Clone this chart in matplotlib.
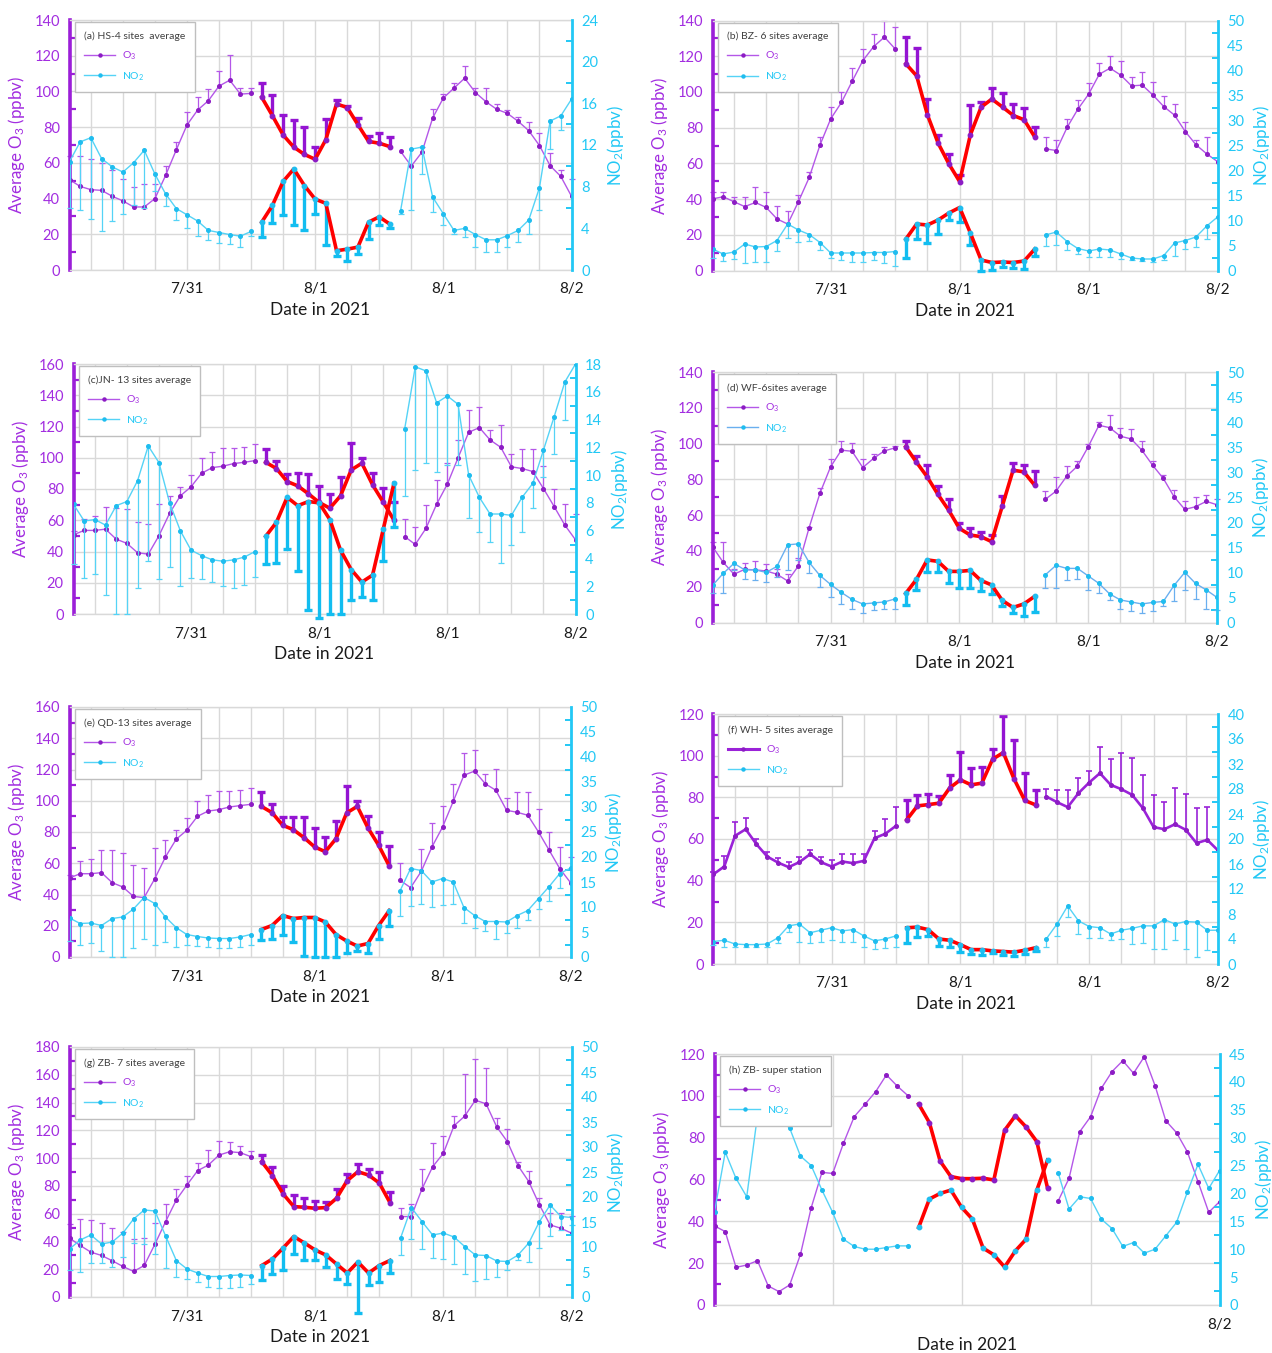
import numpy as np
import matplotlib
matplotlib.use('Agg')
import matplotlib.pyplot as plt
from matplotlib.ticker import MultipleLocator, FixedLocator
from matplotlib.lines import Line2D

plt.rcParams['font.family'] = ['Lato', 'DejaVu Sans']
plt.rcParams['mathtext.fontset'] = 'custom'
plt.rcParams['mathtext.rm'] = 'Lato'
plt.rcParams['mathtext.default'] = 'regular'

# ---------------- data ----------------
HOURS = np.arange(48)
X_TICK_POS = [11, 23, 35, 47]
X_TICK_LABELS = ['7/31', '8/1', '8/1', '8/2']
H_TICK_LABELS = ['', '', '', '8/2']
SEG_SITES = (18, 31)      # highlighted (red) hours, sites-average panels
SEG_SUPER = (19, 32)      # highlighted hours, super station

TITLES = ["(a) HS-4 sites  average", "(b) BZ- 6 sites average", "(c)JN- 13 sites average",
          "(d) WF-6sites average", "(e) QD-13 sites average", "(f) WH- 5 sites average",
          "(g) ZB- 7 sites average", "(h) ZB- super station"]

O3_A = [50.6,46.8,45.0,44.6,41.3,38.7,35.3,35.3,40.0,53.0,67.3,81.2,89.6,94.8,103.0,106.3,98.5,98.9,
        96.7,86.4,75.6,68.8,64.7,62.0,73.0,93.0,91.0,81.4,72.0,71.0,69.1,
        66.4,58.2,66.0,85.1,96.3,101.9,107.4,99.4,94.2,90.0,87.7,83.3,78.0,69.7,58.4,52.4,41.3]
O3_A_HI = [63.8,64.0,62.0,60.0,55.8,51.0,46.5,48.3,48.3,58.0,71.6,88.3,96.7,101.3,111.2,120.3,101.9,101.9,
           104.5,97.8,87.0,84.2,79.9,68.8,84.6,95.4,91.6,85.1,75.3,76.6,74.3,
           66.5,58.2,68.8,90.0,98.5,104.6,114.0,102.2,101.9,93.0,89.6,85.5,82.7,76.8,65.6,55.8,51.1]
NO2_A = [10.4,12.3,12.7,10.7,9.9,9.4,10.3,11.5,9.2,7.3,5.9,5.3,4.7,3.8,3.6,3.4,3.25,3.7,
         4.6,6.2,8.5,9.7,8.1,6.8,6.4,1.85,2.0,2.2,4.6,5.1,4.4,
         5.7,11.6,11.8,7.0,5.4,3.8,4.0,3.4,2.9,2.9,3.3,3.8,4.8,7.9,14.3,14.8,16.4]
NO2_A_LO = [6.0,5.8,4.9,3.7,4.7,5.4,6.2,6.0,7.6,6.1,4.8,4.0,3.3,2.9,2.6,2.5,2.2,3.3,
            3.2,4.5,5.3,4.3,3.8,5.4,2.4,1.3,0.9,1.5,3.0,4.3,4.0,
            5.4,5.8,9.2,5.6,4.3,3.5,3.2,2.2,1.75,1.75,2.2,2.7,3.5,5.8,11.6,13.4,16.4]

O3_B = [40.1,41.3,38.5,35.8,38.1,35.3,28.9,26.0,38.6,52.1,70.2,84.9,94.1,106.0,117.6,125.4,130.7,124.1,
        115.7,109.0,87.2,71.3,59.7,49.8,76.0,91.5,96.0,91.5,86.8,84.4,74.7,
        68.1,67.2,80.1,90.3,98.7,109.9,113.3,109.4,103.4,103.8,98.2,91.8,87.0,77.8,70.4,65.3,61.0]
O3_B_HI = [43.9,44.0,41.4,40.9,47.0,43.7,36.4,33.6,42.4,55.0,74.5,91.8,100.2,113.3,124.3,132.2,140.0,136.3,
           130.7,124.7,96.1,76.0,65.3,53.6,92.8,94.6,102.1,99.3,93.3,90.9,80.6,
           75.0,73.1,84.7,95.6,104.9,116.1,120.2,117.6,108.3,111.3,105.3,98.0,93.1,82.9,73.2,74.5,61.0]
NO2_B = [4.3,3.3,3.7,5.3,4.7,4.8,6.0,9.3,8.1,7.2,5.6,3.5,3.5,3.5,3.5,3.6,3.6,3.8,
         6.3,9.3,9.1,10.1,11.5,12.6,7.5,2.1,1.6,1.7,1.6,1.9,4.3,
         7.1,7.7,5.8,4.4,3.9,4.3,4.1,3.3,2.5,2.3,2.3,3.0,5.5,6.0,6.7,8.9,10.7]
NO2_B_LO = [2.5,1.9,2.4,1.5,1.7,1.8,4.0,6.5,5.7,6.0,4.1,2.6,2.1,1.8,1.8,2.1,1.5,1.0,
            2.5,6.3,5.5,7.3,10.1,9.8,5.1,0.0,0.1,0.8,0.5,0.3,2.9,
            4.9,5.1,4.1,3.3,2.8,2.8,2.8,2.3,2.1,1.9,1.8,2.1,2.9,4.3,4.8,6.3,10.7]

O3_C = [50.7,53.5,53.5,54.3,47.9,45.2,39.2,38.3,50.1,64.5,75.6,81.4,90.1,93.7,94.6,96.3,97.1,98.2,
        97.1,93.1,84.8,82.0,76.9,71.4,67.7,75.6,92.2,96.5,82.7,71.6,60.1,
        49.6,44.5,54.8,70.3,83.1,99.9,116.3,119.3,111.4,106.7,94.2,93.1,91.2,80.3,68.8,56.9,47.5]
O3_C_HI = [53.0,60.7,62.8,68.4,67.7,67.3,59.2,57.5,70.3,75.6,81.6,89.0,99.7,104.0,106.1,106.5,107.2,108.7,
           105.7,98.2,89.5,90.1,89.7,82.2,76.9,87.6,109.3,99.9,90.1,80.5,71.6,
           60.7,55.4,69.9,85.9,96.5,111.4,130.6,132.3,117.6,120.8,102.3,105.9,105.9,95.0,80.1,70.3,64.1]
NO2_C = [7.9,6.7,6.8,6.4,7.8,8.1,9.6,12.1,10.9,8.0,6.0,4.6,4.2,3.9,3.8,3.9,4.1,4.5,
         5.6,6.6,8.4,7.8,8.1,8.0,6.8,4.6,3.2,2.3,2.8,6.1,9.4,
         13.3,17.8,17.5,15.2,15.7,15.1,10.0,8.4,7.2,7.2,7.1,8.4,9.4,11.8,14.2,16.7,18.0]
NO2_C_LO = [3.6,2.6,2.9,1.4,0.0,0.0,1.9,3.8,2.5,3.4,2.0,2.6,2.5,2.3,2.0,1.9,2.1,2.7,
            3.6,3.7,4.7,3.1,0.3,-0.3,0.0,0.0,1.0,1.2,1.0,3.8,6.3,
            8.5,10.4,10.9,10.2,10.7,10.7,6.9,5.9,5.2,3.7,5.0,5.9,7.6,9.9,11.5,14.0,18.0]

O3_D = [42.4,33.6,27.0,29.7,29.4,28.8,27.0,23.2,31.6,53.0,72.1,87.0,96.3,95.7,86.6,91.7,95.9,97.6,
        98.2,89.6,81.4,71.6,62.8,52.6,48.9,48.0,45.2,65.1,85.1,84.2,76.8,
        68.8,73.4,81.8,87.4,98.2,110.2,108.9,104.1,102.6,96.3,87.9,80.5,70.3,63.2,64.7,67.7,65.8]
O3_D_HI = [44.8,44.8,29.7,33.5,34.6,32.5,29.7,27.0,35.9,53.5,75.1,91.3,101.5,100.4,91.1,94.1,98.2,98.5,
           101.3,92.9,88.1,76.4,69.2,55.8,52.6,50.4,48.9,70.6,89.2,88.1,84.6,
           73.6,81.4,87.4,90.0,100.0,112.3,115.8,108.7,108.2,101.3,90.2,82.7,74.0,67.9,70.3,71.4,68.8]
NO2_D = [7.4,9.8,11.8,10.5,10.5,10.0,11.2,15.5,15.7,12.0,9.4,7.6,6.0,4.6,3.7,3.9,4.1,4.7,
         5.8,8.6,12.5,12.2,10.2,10.2,10.4,8.4,7.5,4.4,3.0,3.7,5.2,
         9.5,11.4,10.8,10.8,9.3,7.8,5.7,4.5,4.1,3.7,4.0,4.2,7.4,10.0,7.8,6.5,5.0]
NO2_D_LO = [5.8,5.8,10.5,8.6,8.4,8.0,9.0,10.5,12.4,9.8,7.0,5.0,3.7,2.7,1.9,2.5,2.7,2.7,
            3.5,6.5,10.0,10.0,7.8,6.8,6.8,6.2,5.6,3.3,1.9,1.3,2.0,
            6.8,6.8,8.5,8.6,6.5,5.8,4.5,2.7,2.2,1.9,2.2,3.2,4.3,6.4,4.7,2.7,2.5]

O3_E = [50.6,53.3,53.3,54.0,47.6,44.8,38.8,38.0,50.1,64.0,75.3,81.1,90.0,93.4,94.3,96.0,96.9,97.7,
        96.4,92.4,84.3,81.5,76.4,70.4,67.4,75.7,92.2,96.4,82.6,71.5,58.2,
        49.1,44.4,54.8,70.4,83.2,99.6,116.3,119.0,110.9,106.7,93.9,92.6,90.7,80.0,68.3,56.5,47.6]
O3_E_HI = [52.3,61.2,62.5,68.3,68.3,66.8,59.1,57.0,70.0,75.1,81.5,89.0,99.6,103.7,106.0,106.5,107.1,108.4,
           105.4,98.1,89.4,89.6,89.4,82.3,76.6,87.0,109.2,99.6,90.0,80.2,71.3,
           60.4,56.1,69.3,85.8,96.4,110.9,130.6,132.3,117.3,120.5,102.0,105.6,105.6,94.9,80.0,70.4,64.0]
NO2_E = [7.8,6.7,6.8,6.3,7.7,8.0,9.6,11.9,10.7,8.0,5.9,4.5,4.1,3.8,3.7,3.7,4.0,4.5,
         5.5,6.3,8.3,7.7,7.9,7.9,7.0,4.5,3.2,2.2,2.7,6.3,9.3,
         13.2,17.7,17.3,15.0,15.7,15.0,9.9,8.3,7.1,7.1,7.0,8.3,9.3,11.7,14.1,16.7,17.8]
NO2_E_LO = [3.3,2.5,2.8,1.3,0.0,0.0,1.8,3.7,2.5,3.1,2.0,2.5,2.3,2.1,1.9,1.9,2.1,2.5,
            3.5,3.7,4.5,3.0,0.2,0.0,0.0,0.0,0.9,1.2,0.9,3.7,6.2,
            8.3,10.3,10.7,10.0,10.5,10.7,6.9,5.9,5.2,3.7,4.9,5.8,7.5,9.7,11.3,13.8,17.8]

O3_F = [43.1,46.8,61.5,64.7,57.5,51.6,48.7,46.5,48.9,52.7,48.9,46.8,49.2,48.4,49.5,60.4,62.5,66.3,
        69.2,75.9,76.5,77.2,84.5,88.4,86.0,86.8,98.3,101.5,88.8,78.5,76.4,
        80.4,77.7,75.3,82.0,87.1,91.6,86.0,83.9,81.2,74.8,65.7,64.7,67.1,64.4,58.0,59.6,54.5]
O3_F_HI = [44.4,51.9,68.4,70.3,60.1,54.0,50.8,48.9,51.3,54.8,51.3,50.0,52.7,52.7,52.9,63.9,69.5,75.6,
           78.8,80.9,81.5,80.7,90.8,101.6,94.0,94.8,103.1,119.0,107.5,91.6,83.3,
           83.9,83.6,83.6,89.5,92.8,104.3,98.3,101.2,99.1,90.8,81.2,77.7,84.7,81.7,74.8,75.6,54.5]
NO2_F = [3.6,3.8,3.2,3.1,3.1,3.2,4.2,6.1,6.4,5.0,5.4,5.8,5.3,5.5,4.5,3.7,4.0,4.5,
         5.8,5.9,5.5,4.0,3.8,3.1,2.3,2.3,2.1,2.0,1.9,2.2,2.6,
         4.0,6.4,9.3,6.9,6.0,5.8,4.8,5.4,5.7,6.1,6.1,7.1,6.4,6.8,6.7,5.4,5.4]
NO2_F_LO = [3.1,2.8,2.8,2.7,2.8,2.8,3.4,5.2,3.5,3.4,3.5,3.8,3.6,3.6,2.8,2.4,2.6,2.7,
            3.4,4.3,4.5,2.9,2.7,2.0,1.6,1.5,1.8,1.5,1.3,1.6,2.1,
            2.8,4.5,7.5,4.8,4.2,4.2,3.8,4.0,3.2,3.4,2.4,2.4,3.8,2.4,1.1,2.3,5.4]

O3_G = [42.4,37.1,32.3,29.9,26.1,22.0,18.4,22.7,38.1,54.3,69.9,80.7,91.0,95.0,102.2,104.6,103.9,101.0,
        97.4,87.4,74.2,65.1,64.6,63.9,64.4,71.1,83.8,90.2,87.8,82.1,68.0,
        57.9,57.9,77.8,93.8,103.4,123.3,130.2,141.7,139.1,122.5,111.8,94.5,83.1,66.3,51.9,49.5,46.0]
O3_G_HI = [52.7,56.0,55.5,53.6,49.5,46.7,41.6,42.4,53.1,67.0,77.8,87.1,96.2,105.6,112.5,111.5,108.9,105.3,
           102.2,93.8,79.9,73.5,71.1,69.2,68.7,77.8,88.3,95.5,92.1,90.2,75.9,
           63.9,66.8,91.9,110.6,115.8,130.2,160.8,171.6,164.9,129.0,121.3,97.4,91.0,71.6,60.3,60.3,58.4]
NO2_G = [9.6,11.4,12.4,10.6,11.0,12.8,15.6,17.4,17.2,12.2,7.3,5.6,4.8,4.1,4.1,4.3,4.4,4.3,
         6.3,7.6,9.8,12.1,10.8,9.4,8.4,6.6,4.8,7.0,4.8,6.3,7.3,
         11.8,17.9,15.1,12.4,12.8,12.0,10.1,8.4,8.3,7.2,7.1,8.4,10.8,15.1,18.4,16.1,15.9]
NO2_G_LO = [5.5,5.1,6.8,6.8,6.1,8.0,10.8,10.6,8.6,5.8,4.1,3.6,3.1,2.1,1.8,1.9,2.1,2.6,
            3.5,4.6,5.5,8.6,7.4,7.4,6.1,3.7,2.6,-3.2,2.5,3.0,4.8,
            8.4,11.6,9.6,7.8,7.6,6.6,4.7,3.3,3.7,4.0,5.5,7.4,7.1,9.8,12.2,13.4,14.4]

O3_H = [37.8,35.1,18.0,19.1,21.2,9.1,6.4,9.6,24.2,46.5,63.4,62.9,77.3,90.0,95.9,102.0,110.0,104.7,100.1,
        96.1,87.2,68.8,61.4,60.4,60.4,60.6,59.8,83.5,90.5,85.1,78.1,55.8,
        49.9,60.6,82.9,90.0,103.6,111.6,116.8,110.8,118.7,104.9,88.1,82.4,73.3,59.0,44.3,49.4]
NO2_H = [16.7,27.4,22.7,19.4,34.0,39.0,33.6,31.7,26.7,25.0,20.6,16.6,11.8,10.5,10.0,10.0,10.3,10.6,10.6,
         13.9,19.0,20.0,20.6,17.5,15.4,10.2,9.0,6.8,9.7,11.8,20.6,26.0,
         23.6,17.2,19.4,19.1,15.4,13.7,10.5,11.2,9.3,10.0,12.4,14.8,20.2,25.2,20.9,24.1]

O3_MAX = [140, 140, 160, 140, 160, 120, 180, 120]
NO2_MAX = [24, 50, 18, 50, 50, 40, 50, 45]
NO2_STEP = [4, 5, 2, 5, 5, 4, 5, 5]

# ---------------- style ----------------
W, H = 1272, 1353
RECTS = [(69.5, 20, 571.5, 270), (712.5, 20.5, 1217.5, 270.5),
         (73.5, 364, 575.5, 614), (712.5, 372, 1217, 622.5),
         (69.5, 707, 570.5, 957), (713.5, 714, 1218, 964),
         (69.5, 1047, 571.5, 1297), (714.5, 1054, 1219.5, 1305)]

PUR_TXT = '#A22DE0'
PUR_SPINE = '#9B1FD8'
PUR_LINE = '#B457E8'
PUR_MARK = '#8C1CC4'
PUR_BAR = '#9414D2'
CY_TXT = '#22C8F5'
CY_LINE = '#55D3F6'
CY_MARK = '#1FBDEF'
CY_BAR = '#12BDF0'
RED = '#FF0000'
GRID = '#D9D9D9'

fig = plt.figure(figsize=(W / 100, H / 100), dpi=100)
fig.patch.set_facecolor('white')


def up_bars(ax, x, y, hi, color, lw, capw, z):
    x = np.asarray(x); y = np.asarray(y); hi = np.asarray(hi)
    m = (hi - y) > 0.3
    ax.vlines(x[m], y[m], hi[m], colors=color, lw=lw, zorder=z, clip_on=False)
    ax.plot(x[m], hi[m], ls='none', marker='_', ms=capw, mew=lw, color=color, zorder=z, clip_on=False)


def down_bars(ax, x, y, lo, color, lw, capw, z):
    x = np.asarray(x); y = np.asarray(y); lo = np.asarray(lo)
    m = (y - lo) > 0.08
    ax.vlines(x[m], lo[m], y[m], colors=color, lw=lw, zorder=z, clip_on=False)
    ax.plot(x[m], lo[m], ls='none', marker='_', ms=capw, mew=lw, color=color, zorder=z, clip_on=False)


def panel(k, o3, o3_hi, no2, no2_lo, seg, super_station=False):
    l, t, r, b = RECTS[k]
    ax = fig.add_axes([l / W, 1 - b / H, (r - l) / W, (b - t) / H])
    ax2 = ax.twinx()
    x = HOURS
    o3 = np.asarray(o3, float); no2 = np.asarray(no2, float)
    s0, s1 = seg
    parts = [slice(0, s0), slice(s1, 48)]
    hl = slice(s0, s1)

    o3_lw = 1.9 if k == 5 else 1.0
    o3_col = '#9A22D8' if k == 5 else PUR_LINE
    no2_col = '#6AAFEF' if k == 3 else CY_LINE

    # O3 thin parts
    for p in parts:
        if o3_hi is not None:
            up_bars(ax, x[p], o3[p], np.asarray(o3_hi)[p], o3_col, 1.2 if k == 5 else 0.9, 4, 2)
        ax.plot(x[p], o3[p], color=o3_col, lw=o3_lw, marker='o', ms=2.6,
                mfc=PUR_MARK, mec=PUR_MARK, zorder=3)
    # O3 highlighted
    if o3_hi is not None:
        up_bars(ax, x[hl], o3[hl], np.asarray(o3_hi)[hl], PUR_BAR, 2.4, 5.5, 2)
    ax.plot(x[hl], o3[hl], color=RED, lw=2.6, zorder=4)
    ax.plot(x[hl], o3[hl], ls='none', marker='o', ms=3.2, mfc=PUR_MARK, mec=PUR_MARK, zorder=5)

    # NO2
    for p in parts:
        if no2_lo is not None:
            down_bars(ax2, x[p], no2[p], np.asarray(no2_lo)[p], no2_col, 0.9, 4, 2)
        ax2.plot(x[p], no2[p], color=no2_col, lw=1.0, marker='o', ms=2.6,
                 mfc=CY_MARK, mec=CY_MARK, zorder=3)
    if no2_lo is not None:
        down_bars(ax2, x[hl], no2[hl], np.asarray(no2_lo)[hl], CY_BAR, 2.4, 5.5, 2)
    ax2.plot(x[hl], no2[hl], color=RED, lw=2.6, zorder=4)
    ax2.plot(x[hl], no2[hl], ls='none', marker='o', ms=3.2, mfc=CY_MARK, mec=CY_MARK, zorder=5)

    # axes
    ax.set_xlim(0, 47)
    ax.set_ylim(0, O3_MAX[k])
    ax2.set_ylim(0, NO2_MAX[k])
    ax.yaxis.set_major_locator(MultipleLocator(20))
    ax.yaxis.set_minor_locator(MultipleLocator(10))
    ax2.yaxis.set_major_locator(MultipleLocator(NO2_STEP[k]))
    ax2.yaxis.set_minor_locator(MultipleLocator(NO2_STEP[k] / 2))
    ax.set_xticks(X_TICK_POS)
    ax.set_xticklabels(H_TICK_LABELS if super_station else X_TICK_LABELS)
    if not super_station:
        ax.xaxis.set_minor_locator(FixedLocator(np.arange(2, 47, 3)))
        ax.grid(axis='x', which='both', color=GRID, lw=1.0, zorder=0)
    else:
        ax.grid(axis='x', which='major', color=GRID, lw=1.0, zorder=0)
    ax.grid(axis='y', which='major', color=GRID, lw=1.0, zorder=0)
    ax.set_axisbelow(True)

    ax.tick_params(axis='x', which='both', length=0, labelsize=11, pad=9, labelcolor='#1a1a1a')
    ax.tick_params(axis='y', which='major', length=0, labelsize=10.5, pad=7, labelcolor=PUR_TXT)
    ax.tick_params(axis='y', which='minor', direction='in', length=4, width=1.6, color=PUR_SPINE)
    ax2.tick_params(axis='y', which='major', length=0, labelsize=10.5, pad=7, labelcolor=CY_TXT)
    ax2.tick_params(axis='y', which='minor', direction='in', length=4, width=1.4, color=CY_TXT)

    for sp in ['top', 'bottom']:
        ax.spines[sp].set_color(GRID); ax.spines[sp].set_linewidth(1.0)
        ax2.spines[sp].set_visible(False)
    ax.spines['right'].set_visible(False)
    ax2.spines['left'].set_visible(False)
    ax.spines['left'].set_color(PUR_SPINE); ax.spines['left'].set_linewidth(2.6)
    ax2.spines['right'].set_color(CY_TXT); ax2.spines['right'].set_linewidth(2.0)

    wpx, hpx = r - l, b - t
    ax.set_ylabel('Average O$_3$ (ppbv)', color=PUR_TXT, fontsize=12.2)
    ax.yaxis.set_label_coords(-42.0 / wpx, 0.5)
    ax2.set_ylabel('NO$_2$(ppbv)', color=CY_TXT, fontsize=12.2, rotation=90)
    ax2.yaxis.set_label_coords(1 + 33.0 / wpx, 0.5)
    ax.set_xlabel('Date in 2021', fontsize=12.5, color='#1a1a1a')
    ax.xaxis.set_label_coords(0.5, -32.0 / hpx)

    handles = [Line2D([], [], color=o3_col, lw=o3_lw + 0.3 if k == 5 else 1.0, marker='o', ms=2.2,
                      mfc=PUR_MARK, mec=PUR_MARK),
               Line2D([], [], color=no2_col, lw=1.0, marker='o', ms=2.2, mfc=CY_MARK, mec=CY_MARK)]
    leg = ax2.legend(handles, ['O$_3$', 'NO$_2$'], title=TITLES[k], loc='upper left',
                     bbox_to_anchor=(5.0 / wpx, 1 - 2.0 / hpx), bbox_transform=ax2.transAxes,
                     borderaxespad=0, fontsize=7.5, title_fontsize=7.5, frameon=True,
                     fancybox=False, edgecolor='#BFBFBF', framealpha=1, borderpad=0.9,
                     labelspacing=0.8, handlelength=3.0, handletextpad=0.7, alignment='left',
                     labelcolor=[PUR_TXT, CY_TXT])
    leg.get_title().set_color('#404040')
    leg.get_frame().set_linewidth(1.0)
    leg.set_zorder(20)


panel(0, O3_A, O3_A_HI, NO2_A, NO2_A_LO, SEG_SITES)
panel(1, O3_B, O3_B_HI, NO2_B, NO2_B_LO, SEG_SITES)
panel(2, O3_C, O3_C_HI, NO2_C, NO2_C_LO, SEG_SITES)
panel(3, O3_D, O3_D_HI, NO2_D, NO2_D_LO, SEG_SITES)
panel(4, O3_E, O3_E_HI, NO2_E, NO2_E_LO, SEG_SITES)
panel(5, O3_F, O3_F_HI, NO2_F, NO2_F_LO, SEG_SITES)
panel(6, O3_G, O3_G_HI, NO2_G, NO2_G_LO, SEG_SITES)
panel(7, O3_H, None, NO2_H, None, SEG_SUPER, super_station=True)

fig.savefig('out.png', dpi=100, facecolor='white')
